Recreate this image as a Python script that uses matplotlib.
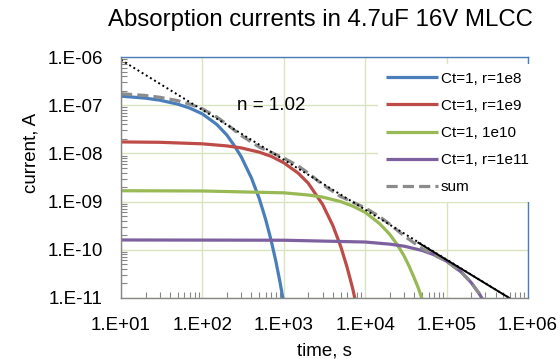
import matplotlib
matplotlib.use('Agg')
import matplotlib.pyplot as plt
from matplotlib.ticker import LogLocator, FixedLocator

plt.rcParams['font.family'] = ['Liberation Sans', 'DejaVu Sans']

# values (time in s, current in A)
t_blue = [10, 20, 30, 50, 70, 100, 150, 200, 250, 300, 400, 500, 600, 700, 800, 900, 1000, 1050]
i_blue = [1.54e-7, 1.40e-7, 1.27e-7, 1.05e-7, 8.7e-8, 6.6e-8, 4.0e-8, 2.4e-8, 1.4e-8, 8.5e-9,
          3.1e-9, 1.15e-9, 4.2e-10, 1.55e-10, 5.7e-11, 2.1e-11, 7.7e-12, 4.7e-12]

t_red = [10, 30, 100, 200, 300, 500, 700, 1000, 1500, 2000, 3000, 4000, 5000, 6000, 7000, 8000, 9000]
i_red = [1.73e-8, 1.70e-8, 1.58e-8, 1.43e-8, 1.30e-8, 1.06e-8, 8.7e-9, 6.4e-9, 3.9e-9, 2.4e-9,
         8.7e-10, 3.2e-10, 1.18e-10, 4.3e-11, 1.6e-11, 5.9e-12, 2.2e-12]

t_green = [10, 100, 1000, 2000, 3000, 5000, 7000, 10000, 15000, 20000, 25000, 30000, 35000,
           40000, 45000, 50000, 55000]
i_green = [1.68e-9, 1.66e-9, 1.52e-9, 1.37e-9, 1.24e-9, 1.0e-9, 8.1e-10, 6.0e-10, 3.5e-10,
           2.1e-10, 1.25e-10, 7.5e-11, 4.4e-11, 2.6e-11, 1.6e-11, 9.4e-12, 5.6e-12]

t_purple = [10, 1000, 10000, 20000, 30000, 50000, 70000, 100000, 150000, 200000, 250000, 300000]
i_purple = [1.6e-10, 1.58e-10, 1.45e-10, 1.31e-10, 1.19e-10, 9.7e-11, 7.9e-11, 5.8e-11,
            3.5e-11, 2.1e-11, 1.25e-11, 7.5e-12]

t_sum = [10, 20, 30, 50, 70, 100, 150, 200, 300, 500, 700, 1000, 1500, 2000, 3000, 5000, 7000,
         10000, 15000, 20000, 30000, 50000, 70000, 100000, 150000, 200000, 250000, 300000]
i_sum = [1.73e-7, 1.59e-7, 1.46e-7, 1.24e-7, 1.05e-7, 8.4e-8, 5.7e-8, 4.0e-8, 2.35e-8, 1.35e-8,
         1.05e-8, 8.0e-9, 5.5e-9, 3.9e-9, 2.25e-9, 1.27e-9, 9.8e-10, 7.4e-10, 4.9e-10, 3.4e-10,
         1.95e-10, 1.06e-10, 7.9e-11, 5.8e-11, 3.5e-11, 2.1e-11, 1.25e-11, 7.5e-12]

# power law trend line (n = 1.02)
t_fit = [10, 590000]
i_fit = [8.7e-7, 1e-11]
t_fit_solid = [45000, 590000]
i_fit_solid = [1.4e-10, 1e-11]

labels = ['Ct=1, r=1e8', 'Ct=1, r=1e9', 'Ct=1, 1e10', 'Ct=1, r=1e11', 'sum']
colors = ['#4A7EBB', '#BE4B48', '#98B954', '#7D60A0', '#8C8C8C']

fig = plt.figure(figsize=(5.6, 3.61), dpi=100)
ax = fig.add_axes([121/560, 1 - 298/361, (528 - 121)/560, (298 - 57)/361])

series = [(t_blue, i_blue), (t_red, i_red), (t_green, i_green), (t_purple, i_purple)]
for (t, i), c, lab in zip(series, colors[:4], labels[:4]):
    ax.plot(t, i, color=c, lw=2.3, label=lab, solid_capstyle='butt')
ax.plot(t_sum, i_sum, color=colors[4], lw=2.3, dashes=(3.5, 1.6), label=labels[4])
ax.plot(t_fit, i_fit, color='black', lw=1.4, ls=(0, (1, 1.5)))
ax.plot(t_fit_solid, i_fit_solid, color='black', lw=1.4)

ax.set_xscale('log')
ax.set_yscale('log')
ax.set_xlim(10, 1e6)
ax.set_ylim(1e-11, 1e-6)

xt = [1e1, 1e2, 1e3, 1e4, 1e5, 1e6]
yt = [1e-11, 1e-10, 1e-9, 1e-8, 1e-7, 1e-6]
ax.xaxis.set_major_locator(FixedLocator(xt))
ax.yaxis.set_major_locator(FixedLocator(yt))
ax.set_xticklabels(['1.E+01', '1.E+02', '1.E+03', '1.E+04', '1.E+05', '1.E+06'])
ax.set_yticklabels(['1.E-11', '1.E-10', '1.E-09', '1.E-08', '1.E-07', '1.E-06'])
ax.xaxis.set_minor_locator(LogLocator(base=10, subs=range(2, 10), numticks=20))
ax.yaxis.set_minor_locator(LogLocator(base=10, subs=range(2, 10), numticks=20))
ax.tick_params(which='major', length=0, labelsize=13.5)
ax.tick_params(axis='x', which='major', pad=13.5)
ax.tick_params(axis='y', which='major', pad=13)
ax.tick_params(which='minor', direction='in', length=4, width=0.8, color='#868686')
ax.tick_params(which='minor', labelbottom=False, labelleft=False)

ax.grid(True, which='major', color='#D7E4BD', lw=1)
ax.set_axisbelow(True)
ax.spines['left'].set_color('#868686')
ax.spines['bottom'].set_color('#868686')
ax.spines['top'].set_color('#4A7EBB')
ax.spines['right'].set_color('#4A7EBB')
for s in ax.spines.values():
    s.set_linewidth(1)

ax.text(700, 1e-7, 'n = 1.02', fontsize=13.5, ha='center', va='center')

ax.set_xlabel('time, s', fontsize=13.5, labelpad=6)
ax.set_ylabel('current, A', fontsize=13.5)
ax.yaxis.set_label_coords(-0.2, 0.6)

fig.suptitle('Absorption currents in 4.7uF 16V MLCC', fontsize=17.3, x=320/560, y=1 - 20/361,
             va='center')

leg = ax.legend(loc='upper left', bbox_to_anchor=(378/560, 1 - 64/361),
                bbox_transform=fig.transFigure, fontsize=11, frameon=True,
                handlelength=3.4, handletextpad=0.2, labelspacing=0.86,
                borderpad=0.5, borderaxespad=0)
leg.get_frame().set_facecolor('white')
leg.get_frame().set_edgecolor('none')
leg.get_frame().set_alpha(1)
leg.get_frame().set_boxstyle('square', pad=0)

fig.savefig('out.png', dpi=100)
